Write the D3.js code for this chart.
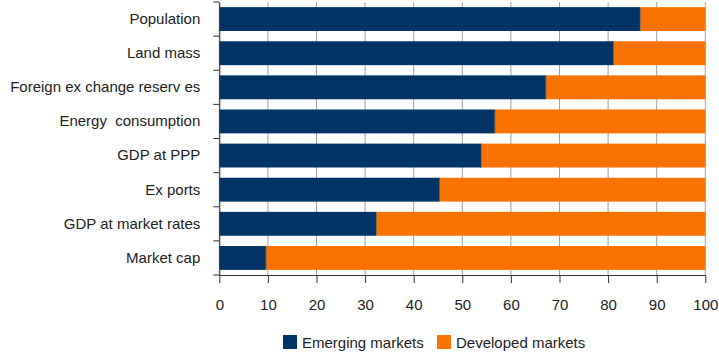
<!DOCTYPE html>
<html><head><meta charset="utf-8">
<script src="https://cdn.jsdelivr.net/npm/d3@7/dist/d3.min.js"></script>
<style>body{margin:0;background:#fff}svg{display:block}text{font-family:"Liberation Sans",Arial,sans-serif;white-space:pre}</style>
</head><body><svg id="c" width="719" height="354"></svg>
<script>
const categories = ["Population","Land mass","Foreign ex change reserv es","Energy  consumption","GDP at PPP","Ex ports","GDP at market rates","Market cap"];
const emerging = [86.6, 81.1, 67.2, 56.7, 53.9, 45.3, 32.3, 9.6];
const developed = emerging.map(v => 100 - v);
const xTicks = [0,10,20,30,40,50,60,70,80,90,100];
const seriesNames = ["Emerging markets","Developed markets"];
const colors = ["#003366","#fa7300"];

const svg = d3.select("#c");
const m = {l:219.3, r:719-705.3, t:2, b:354-275};
const W = 719 - m.l - m.r, H = 354 - m.t - m.b;
const g = svg.append("g").attr("transform",`translate(${m.l},${m.t})`);
const x = d3.scaleLinear().domain([0,100]).range([0,W]);
const y = d3.scaleBand().domain(categories).range([0,H]).paddingInner(0.3).paddingOuter(0.15);

// gridlines
g.append("g").selectAll("line").data(xTicks).join("line")
  .attr("x1",d=>x(d)).attr("x2",d=>x(d)).attr("y1",0).attr("y2",H)
  .attr("stroke","#a0a0a0").attr("stroke-width",1);

const rows = categories.map((c,i)=>({c, e:emerging[i], d:developed[i]}));
g.append("g").selectAll("rect").data(rows).join("rect")
  .attr("x",0).attr("y",d=>y(d.c)).attr("width",d=>x(d.e)).attr("height",y.bandwidth())
  .attr("fill",colors[0]);
g.append("g").selectAll("rect").data(rows).join("rect")
  .attr("x",d=>x(d.e)).attr("y",d=>y(d.c)).attr("width",d=>x(100)-x(d.e)).attr("height",y.bandwidth())
  .attr("fill",colors[1]);
g.append("g").selectAll("line").data(rows).join("line")
  .attr("x1",d=>x(d.e)).attr("x2",d=>x(d.e)).attr("y1",d=>y(d.c)).attr("y2",d=>y(d.c)+y.bandwidth())
  .attr("stroke","#555").attr("stroke-width",0.8);

const fs = 15;
// y axis
const yAxis = g.append("g").call(d3.axisLeft(y).tickSize(0).tickPadding(19));
yAxis.select(".domain").attr("stroke","#333");
yAxis.selectAll("text").attr("font-size",fs).attr("fill","#222");
// category separator ticks
const sepYs = d3.range(categories.length+1).map(i => i*H/categories.length);
g.append("g").selectAll("line").data(sepYs).join("line")
  .attr("x1",-6).attr("x2",0).attr("y1",d=>d).attr("y2",d=>d).attr("stroke","#333");

// x axis
const xAxis = g.append("g").attr("transform",`translate(0,${H})`)
  .call(d3.axisBottom(x).tickValues(xTicks).tickSize(8).tickPadding(16).tickSizeOuter(0));
xAxis.select(".domain").attr("stroke","#333");
xAxis.selectAll(".tick line").attr("stroke","#333");
xAxis.selectAll("text").attr("font-size",fs).attr("fill","#222");

// legend
const legend = svg.append("g");
const lx = [283, 437];
seriesNames.forEach((n,i)=>{
  legend.append("rect").attr("x",lx[i]).attr("y",335).attr("width",14).attr("height",14).attr("fill",colors[i]);
  legend.append("text").attr("x",lx[i]+19).attr("y",348).attr("font-size",fs).attr("fill","#222").text(n);
});
</script></body></html>
